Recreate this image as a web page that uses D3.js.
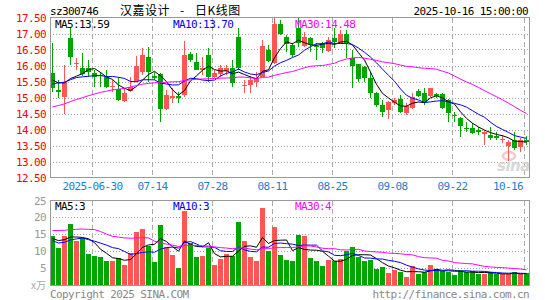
<!DOCTYPE html>
<html>
<head>
<meta charset="utf-8">
<script src="https://cdn.jsdelivr.net/npm/d3@7"></script>
<style>
body{margin:0;background:#fff}
svg{display:block}
text{font-family:"DejaVu Sans Mono",monospace;font-size:11px;letter-spacing:-0.6px}
</style>
</head>
<body>
<div id="chart"></div>
<script>
const dates = [
  "2025-06-19","2025-06-20","2025-06-23","2025-06-24","2025-06-25","2025-06-26","2025-06-27","2025-06-30",
  "2025-07-01","2025-07-02","2025-07-03","2025-07-04","2025-07-07","2025-07-08","2025-07-09","2025-07-10","2025-07-11",
  "2025-07-14","2025-07-15","2025-07-16","2025-07-17","2025-07-18","2025-07-21","2025-07-22","2025-07-23","2025-07-24","2025-07-25",
  "2025-07-28","2025-07-29","2025-07-30","2025-07-31","2025-08-01",
  "2025-08-04","2025-08-05","2025-08-06","2025-08-07","2025-08-08","2025-08-11","2025-08-12","2025-08-13","2025-08-14","2025-08-15",
  "2025-08-18","2025-08-19","2025-08-20","2025-08-21","2025-08-22","2025-08-25","2025-08-26","2025-08-27","2025-08-28","2025-08-29",
  "2025-09-01","2025-09-02","2025-09-03","2025-09-04","2025-09-05","2025-09-08","2025-09-09","2025-09-10","2025-09-11","2025-09-12",
  "2025-09-15","2025-09-16","2025-09-17","2025-09-18","2025-09-19","2025-09-22","2025-09-23","2025-09-24","2025-09-25","2025-09-26",
  "2025-09-29","2025-09-30","2025-10-09","2025-10-10","2025-10-13","2025-10-14","2025-10-15","2025-10-16"
];
const open = [
  15.78,15.22,15.03,16.85,16.04,15.91,15.92,15.76,15.70,15.65,
  15.33,15.27,14.89,15.20,15.52,15.79,16.28,15.68,15.72,14.63,
  14.98,15.05,15.08,16.35,16.12,15.86,16.33,15.63,15.72,15.83,
  15.91,16.90,15.36,15.39,15.49,15.65,16.48,16.07,17.30,16.90,
  16.64,17.16,16.62,16.85,16.60,16.69,16.46,16.87,16.69,17.00,
  16.22,16.04,15.95,15.60,15.13,14.77,14.61,14.82,14.94,14.51,
  14.66,15.21,15.13,15.05,15.10,15.10,14.92,14.45,14.35,14.05,
  14.04,13.98,13.86,13.83,13.80,13.69,13.48,13.67,13.46,13.66
];
const high = [
  16.69,15.55,16.01,17.21,16.22,16.40,16.17,15.86,15.81,15.86,
  15.55,15.65,15.29,15.65,16.31,16.56,16.59,15.80,15.76,15.23,
  15.29,15.18,16.77,16.43,16.38,16.28,16.54,15.86,16.02,16.02,
  16.17,17.16,15.55,15.67,15.81,16.80,16.64,17.49,17.42,16.95,
  16.69,17.47,17.06,16.90,16.69,16.74,16.90,17.16,17.11,17.11,
  16.48,16.06,16.00,15.80,15.18,14.92,14.90,14.97,15.08,14.82,
  15.13,15.26,15.29,15.31,15.15,15.13,14.94,14.56,14.38,14.24,
  14.19,14.09,14.00,14.09,13.93,13.83,13.67,13.93,13.72,13.80
];
const low = [
  15.18,14.99,14.48,16.02,15.86,15.68,15.65,15.34,15.34,15.31,
  15.18,14.89,14.85,15.18,15.50,15.70,15.50,15.55,14.22,14.61,
  14.82,14.82,15.03,16.12,15.86,15.70,15.50,15.60,15.65,15.70,
  15.34,15.86,15.13,15.13,15.34,15.63,16.12,16.05,16.95,16.43,
  16.28,16.59,16.59,16.43,16.17,16.38,16.43,16.54,16.69,16.22,
  15.29,15.50,15.48,15.00,14.71,14.40,14.32,14.77,14.51,14.45,
  14.63,15.03,14.77,15.03,15.00,14.63,14.24,14.24,13.76,13.93,
  13.86,13.83,13.52,13.67,13.67,13.57,13.02,13.36,13.31,13.52
];
const close = [
  15.31,15.18,15.49,16.28,16.07,15.72,15.80,15.65,15.68,15.34,
  15.36,14.92,15.13,15.34,15.99,16.33,15.81,15.62,14.64,15.08,
  15.05,14.98,16.33,16.17,15.86,15.91,15.65,15.78,15.93,15.91,
  15.44,15.91,15.40,15.55,15.62,16.62,16.14,17.29,16.98,16.66,
  16.33,16.69,16.90,16.64,16.57,16.54,16.80,16.74,17.00,16.69,
  15.98,15.58,15.60,15.13,14.77,14.56,14.87,14.92,14.56,14.73,
  15.03,15.06,14.82,15.31,15.05,14.66,14.51,14.43,14.11,14.03,
  13.90,13.93,13.93,13.73,13.73,13.71,13.60,13.41,13.68,13.62
];
// volume, x万
const volume = [
  14.4,11.0,14.3,18.0,13.0,13.7,9.1,8.5,8.2,7.0,
  7.0,8.0,5.8,9.3,15.7,16.5,11.6,6.8,17.7,11.3,
  8.8,5.0,22.0,12.4,8.3,8.4,11.0,5.8,7.6,9.1,
  8.5,18.7,12.9,8.3,7.0,22.9,10.0,17.2,8.8,7.3,
  7.0,14.7,14.3,8.0,7.0,5.5,7.3,7.0,7.7,10.0,
  11.3,8.3,7.0,7.3,4.6,5.3,3.3,4.3,3.8,2.3,
  5.5,3.1,3.6,5.8,4.6,4.0,3.8,2.8,4.3,3.6,
  4.0,3.0,3.1,3.6,3.1,3.0,3.0,3.8,3.1,3.3
];
// sessions before 06-19 (off the chart), estimated from where the MA lines start
const prevClose = [
  13.85,13.95,14.05,14.15,14.05,13.95,14.05,14.15,14.25,14.15,
  14.25,14.25,14.15,14.70,15.00,15.10,14.90,14.70,14.60,14.70,
  14.80,15.30,15.50,15.40,15.50,15.60,15.50,15.60,15.70
];
const prevVolume = [
  11,12,11,11.5,11,12,11,25,30,27,
  15,13,12,14,13,14,36,33,22,18,
  18,12,11,10,11,14,13,14,13
];
const priceTicks = [12.5,13,13.5,14,14.5,15,15.5,16,16.5,17,17.5];
const volTicks = [5,10,15,20,25];
const tickDates = ["2025-06-30","2025-07-14","2025-07-28","2025-08-11","2025-08-25","2025-09-08","2025-09-22","2025-10-16"];
const maPeriods = [5,10,30];
const priceMaLast = ["13.59","13.70","14.48"];
const volMaLast = ["3","3","4"];

const W = 545, H = 300;
const red = "#ff5555", green = "#00a600";
const maColor = ["#000000","#0000ff","#ff00ff"];

const svg = d3.select("#chart").append("svg")
  .attr("width", W).attr("height", H);

const x = d3.scaleBand().domain(dates).range([50, 530]);
const y = d3.scaleLinear().domain([12.5, 17.5]).range([177.5, 17.5]);
const yv = d3.scaleLinear().domain([0, 25]).range([284.5, 200.5]);

const rows = dates.map((d, i) => ({date: d, o: open[i], h: high[i], l: low[i], c: close[i], v: volume[i]}));
const col = d => d.c >= d.o ? red : green;

function movingAvg(vals, prev, n) {
  const all = prev.concat(vals);
  return vals.map((v, i) => d3.mean(all.slice(prev.length + i - n + 1, prev.length + i + 1)));
}

svg.append("defs").call(defs => {
  defs.append("clipPath").attr("id", "clipP").append("rect").attr("x", 50).attr("y", 17.5).attr("width", 480).attr("height", 160);
  defs.append("clipPath").attr("id", "clipV").append("rect").attr("x", 50).attr("y", 200.5).attr("width", 480).attr("height", 85);
});

// header
svg.append("text").attr("x", 50).attr("y", 15).text("sz300746");
const cjk = sel => sel.style("font-family", "'Noto Sans CJK SC'").style("font-size", "12px").style("letter-spacing", "0.5px");
svg.append("text").attr("x", 120).attr("y", 15).call(cjk).text("汉嘉设计");
svg.append("text").attr("x", 180).attr("y", 15).call(cjk).text("-");
svg.append("text").attr("x", 195).attr("y", 15).call(cjk).text("日K线图");
svg.append("text").attr("x", 528).attr("y", 15).attr("text-anchor", "end").text("2025-10-16 15:00:00");

// grid
const grid = svg.append("g").attr("shape-rendering", "crispEdges");
grid.selectAll("line.hp").data(priceTicks.slice(1, -1)).enter().append("line")
  .attr("x1", 50).attr("x2", 530).attr("y1", d => Math.round(y(d)) + 0.5).attr("y2", d => Math.round(y(d)) + 0.5)
  .attr("stroke", "#a0a0a0").attr("stroke-dasharray", "1,2");
grid.selectAll("line.hv").data(volTicks.slice(0, -1)).enter().append("line")
  .attr("x1", 50).attr("x2", 530).attr("y1", d => Math.round(yv(d)) + 0.5).attr("y2", d => Math.round(yv(d)) + 0.5)
  .attr("stroke", "#a0a0a0").attr("stroke-dasharray", "1,2");
tickDates.forEach(d => {
  const xx = x(d) + 0.5;
  grid.append("line").attr("x1", xx).attr("x2", xx).attr("y1", 18).attr("y2", 177)
    .attr("stroke", "#aaa").attr("stroke-dasharray", "5,3");
  grid.append("line").attr("x1", xx).attr("x2", xx).attr("y1", 201).attr("y2", 285)
    .attr("stroke", "#aaa").attr("stroke-dasharray", "5,3");
});

// sina watermark
const wm = svg.append("g").attr("opacity", 0.9);
wm.append("ellipse").attr("cx", 509).attr("cy", 156).attr("rx", 6).attr("ry", 4)
  .attr("fill", "none").attr("stroke", "#f7c4c4").attr("stroke-width", 2.5);
wm.append("text").attr("x", 497).attr("y", 171)
  .style("font-family", "'DejaVu Sans'").style("font-size", "15px").style("font-style", "italic")
  .style("font-weight", "bold").style("letter-spacing", "-0.5px").attr("fill", "#d4d4d4").text("sina");

// candles
const cg = svg.append("g").attr("clip-path", "url(#clipP)").attr("shape-rendering", "crispEdges");
cg.selectAll("rect.wick").data(rows).enter().append("rect")
  .attr("x", d => x(d.date) + 2).attr("width", 1)
  .attr("y", d => Math.round(y(d.h))).attr("height", d => Math.max(1, Math.round(y(d.l)) - Math.round(y(d.h))))
  .attr("fill", col);
cg.selectAll("rect.body").data(rows).enter().append("rect")
  .attr("x", d => x(d.date)).attr("width", x.bandwidth() - 1)
  .attr("y", d => Math.round(y(Math.max(d.o, d.c))))
  .attr("height", d => Math.max(1, Math.round(y(Math.min(d.o, d.c))) - Math.round(y(Math.max(d.o, d.c)))))
  .attr("fill", col);

// volume bars
const vg = svg.append("g").attr("clip-path", "url(#clipV)").attr("shape-rendering", "crispEdges");
vg.selectAll("rect").data(rows).enter().append("rect")
  .attr("x", d => x(d.date)).attr("width", x.bandwidth() - 1)
  .attr("y", d => Math.round(yv(d.v))).attr("height", d => 285 - Math.round(yv(d.v)))
  .attr("fill", col);

// moving averages
maPeriods.forEach((n, k) => {
  const mp = movingAvg(close, prevClose, n);
  const mv = movingAvg(volume, prevVolume, n);
  cg.append("path").datum(mp).attr("fill", "none").attr("stroke", maColor[k]).attr("stroke-width", 1)
    .attr("shape-rendering", "auto")
    .attr("d", d3.line().x((d, i) => x(dates[i]) + 2.5).y(d => y(d)));
  vg.append("path").datum(mv).attr("fill", "none").attr("stroke", maColor[k]).attr("stroke-width", 1)
    .attr("shape-rendering", "auto")
    .attr("d", d3.line().x((d, i) => x(dates[i]) + 2.5).y(d => yv(d)));
});

// frames
svg.append("rect").attr("x", 50.5).attr("y", 17.5).attr("width", 479).attr("height", 160)
  .attr("fill", "none").attr("stroke", "#999");
svg.append("rect").attr("x", 50.5).attr("y", 200.5).attr("width", 479).attr("height", 85)
  .attr("fill", "none").attr("stroke", "#999");

// MA legends
const legX = [55, 173, 295];
maPeriods.forEach((n, k) => {
  svg.append("text").attr("x", legX[k]).attr("y", 28).attr("fill", maColor[k]).text("MA" + n + ":" + priceMaLast[k]);
  svg.append("text").attr("x", legX[k]).attr("y", 210).attr("fill", maColor[k]).text("MA" + n + ":" + volMaLast[k]);
});

// price axis labels
svg.selectAll("text.py").data(priceTicks).enter().append("text")
  .attr("x", 46).attr("y", d => y(d) + 4).attr("text-anchor", "end").attr("fill", "#ff0000")
  .text(d3.format(".2f"));
// volume axis labels
svg.selectAll("text.vy").data(volTicks).enter().append("text")
  .attr("x", 46).attr("y", d => yv(d) + 4).attr("text-anchor", "end").attr("fill", "#999")
  .text(d => d);
svg.append("text").attr("x", 46).attr("y", 289).attr("text-anchor", "end").attr("fill", "#aaa")
  .style("font-family", "'Noto Sans CJK SC'").style("font-size", "10px").style("letter-spacing", "0px").text("x万");

// date labels
tickDates.forEach((d, i) => {
  const last = i === tickDates.length - 1;
  svg.append("text").attr("x", last ? 523 : x(d) + 0.5).attr("y", 190)
    .attr("text-anchor", last ? "end" : "middle").attr("fill", "#1a80d0")
    .text(i === 0 ? d : d.slice(5));
});

// footer
svg.append("text").attr("x", 50).attr("y", 298).attr("fill", "#888").text("Copyright 2025 SINA.COM");
svg.append("text").attr("x", 529).attr("y", 298).attr("text-anchor", "end").attr("fill", "#888").text("http://finance.sina.com.cn");
</script>
</body>
</html>
